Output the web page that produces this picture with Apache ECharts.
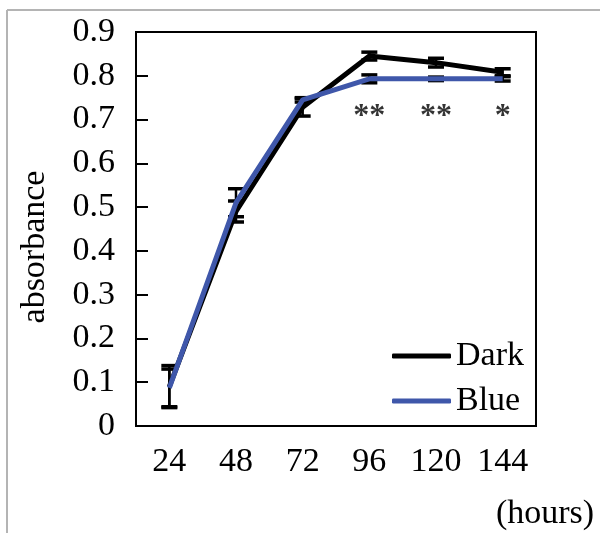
<!DOCTYPE html>
<html>
<head>
<meta charset="utf-8">
<script src="https://cdn.jsdelivr.net/npm/echarts@6/dist/echarts.min.js"></script>
<style>
  html, body { margin: 0; padding: 0; background: #fff; }
  #chart { width: 600px; height: 533px; }
</style>
</head>
<body>
<div id="chart"></div>
<script>
// hours after start
var hours = ['24', '48', '72', '96', '120', '144']
var darkMean = [0.09, 0.49, 0.728, 0.845, 0.83, 0.808]
var darkSd = [0.048, 0.024, 0.02, 0.009, 0.01, 0.008]
var blueMean = [0.087, 0.51, 0.745, 0.793, 0.793, 0.793]
var blueSd = [0.043, 0.032, 0.005, 0.009, 0.004, 0.005]
var signif = ['', '', '', '**', '**', '*']
var yTicks = [0, 0.9, 0.1] // min, max, step

var FONT = 'Liberation Serif'
var FS = 34

function errData(mean, sd) {
    return mean.map(function (m, i) { return [i, m - sd[i], m + sd[i]] })
}

// error bar: vertical line + caps
function renderErr(params, api) {
    var lo = api.coord([api.value(0), api.value(1)])
    var hi = api.coord([api.value(0), api.value(2)])
    var w = 8
    var cap = { stroke: '#000', lineWidth: 3.5 }
    return {
        type: 'group',
        children: [
            { type: 'line', shape: { x1: lo[0], y1: lo[1], x2: hi[0], y2: hi[1] }, style: { stroke: '#000', lineWidth: 2.5 } },
            { type: 'line', shape: { x1: lo[0] - w, y1: lo[1], x2: lo[0] + w, y2: lo[1] }, style: cap },
            { type: 'line', shape: { x1: hi[0] - w, y1: hi[1], x2: hi[0] + w, y2: hi[1] }, style: cap }
        ]
    }
}

var chart = echarts.init(document.getElementById('chart'))

var option = {
    animation: false,
    backgroundColor: '#fff',
    textStyle: { fontFamily: FONT, color: '#000' },
    grid: {
        left: 136, right: 64, top: 32, bottom: 107,
        show: true, borderColor: '#000', borderWidth: 2,
        containLabel: false
    },
    legend: {
        orient: 'vertical',
        left: 392, top: 339,
        padding: 0,
        itemWidth: 59, itemHeight: 5,
        itemGap: 11,
        icon: 'roundRect',
        textStyle: { fontFamily: FONT, fontSize: FS, color: '#000', lineHeight: 34 },
        data: ['Dark', 'Blue']
    },
    xAxis: {
        type: 'category',
        data: hours,
        boundaryGap: true,
        axisLine: { show: true, lineStyle: { color: '#000', width: 2 } },
        axisTick: { show: false },
        axisLabel: { fontFamily: FONT, fontSize: FS, color: '#000', margin: 19 },
        splitLine: { show: false }
    },
    yAxis: {
        type: 'value',
        min: yTicks[0], max: yTicks[1], interval: yTicks[2],
        axisLine: { show: true, lineStyle: { color: '#000', width: 2 } },
        axisTick: { show: true, inside: true, length: 12, lineStyle: { color: '#000', width: 2 } },
        axisLabel: { fontFamily: FONT, fontSize: FS, color: '#000', margin: 21 },
        splitLine: { show: false }
    },
    graphic: [
        // outer frame of the figure
        { type: 'line', shape: { x1: 7, y1: 10, x2: 600, y2: 10 }, style: { stroke: '#b4b4b4', lineWidth: 2 } },
        { type: 'line', shape: { x1: 7, y1: 10, x2: 7, y2: 533 }, style: { stroke: '#b4b4b4', lineWidth: 2 } },
        {
            type: 'text', x: 35, y: 247, rotation: Math.PI / 2,
            style: { text: 'absorbance', font: FS + 'px "Liberation Serif"', fill: '#000', align: 'center', verticalAlign: 'middle' }
        },
        {
            type: 'text', x: 545, y: 514,
            style: { text: '(hours)', font: FS + 'px "Liberation Serif"', fill: '#000', align: 'center', verticalAlign: 'middle' }
        }
    ],
    series: [
        {
            name: 'Dark', type: 'line', data: darkMean,
            symbol: 'none', z: 3,
            lineStyle: { color: '#000', width: 5 },
            itemStyle: { color: '#000' }
        },
        {
            name: 'DarkErr', type: 'custom', data: errData(darkMean, darkSd),
            renderItem: renderErr, z: 2
        },
        {
            name: 'BlueErr', type: 'custom', data: errData(blueMean, blueSd),
            renderItem: renderErr, z: 2
        },
        {
            name: 'Blue', type: 'line', data: blueMean,
            symbol: 'none', z: 4,
            lineStyle: { color: '#3f57aa', width: 5 },
            itemStyle: { color: '#3f57aa' }
        },
        {
            // significance marks under the blue line
            name: 'sig', type: 'scatter', symbolSize: 0, z: 5,
            data: blueMean,
            label: {
                show: true, position: 'bottom', distance: 22,
                fontFamily: FONT, fontSize: 32, fontWeight: 'bold', color: '#000',
                formatter: function (p) { return signif[p.dataIndex] }
            },
            silent: true
        }
    ]
}

chart.setOption(option)
</script>
</body>
</html>
